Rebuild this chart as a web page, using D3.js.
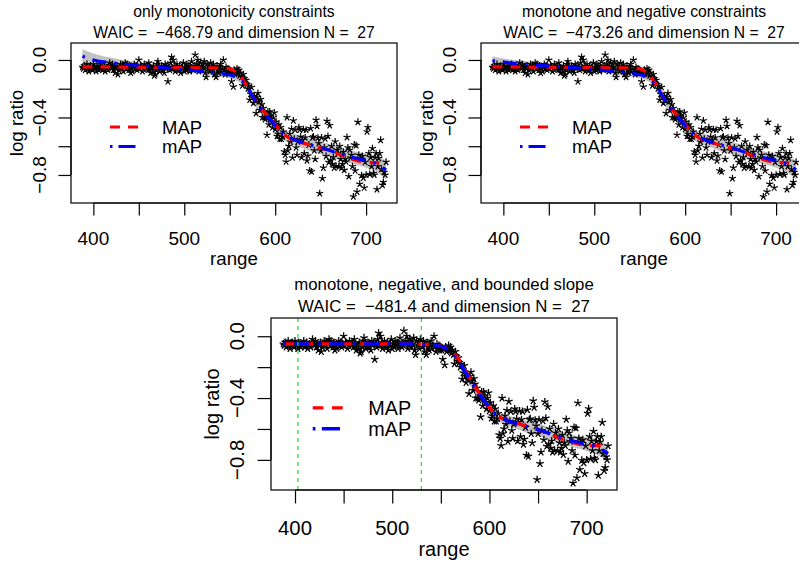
<!DOCTYPE html>
<html><head><meta charset="utf-8">
<script src="https://cdn.jsdelivr.net/npm/d3@7"></script>
<style>
body{margin:0;background:#fff}
svg{display:block}
text{font-family:"Liberation Sans",Arial,Helvetica,sans-serif;fill:#000;white-space:pre}
</style>
</head><body><svg id="c" width="799" height="563"></svg>
<script>
// ---------------- data ----------------
const wavelength = [
388,389,390,391,392,393,394,395,396,397,398,399,400,401,402,403,404,405,406,407,
408,409,410,411,412,413,414,415,416,417,418,419,420,421,422,423,424,425,426,427,
428,429,430,431,432,433,434,435,436,437,438,439,440,441,442,443,444,445,446,447,
448,449,450,451,452,453,454,455,456,457,458,459,460,461,462,463,464,465,466,467,
468,469,470,471,472,473,474,475,476,477,478,479,480,481,482,483,484,485,486,487,
488,489,490,491,492,493,494,495,496,497,498,499,500,501,502,503,504,505,506,507,
508,509,510,511,512,513,514,515,516,517,518,519,520,521,522,523,524,525,526,527,
528,529,530,531,532,533,534,535,536,537,538,539,540,541,542,543,544,545,546,547,
548,549,550,551,552,553,554,555,556,557,558,559,560,561,562,563,564,565,566,567,
568,569,570,571,572,573,574,575,576,577,578,579,580,581,582,583,584,585,586,587,
588,589,590,591,592,593,594,595,596,597,598,599,600,601,602,603,604,605,606,607,
608,609,610,611,612,613,614,615,616,617,618,619,620,621,622,623,624,625,626,627,
628,629,630,631,632,633,634,635,636,637,638,639,640,641,642,643,644,645,646,647,
648,649,650,651,652,653,654,655,656,657,658,659,660,661,662,663,664,665,666,667,
668,669,670,671,672,673,674,675,676,677,678,679,680,681,682,683,684,685,686,687,
688,689,690,691,692,693,694,695,696,697,698,699,700,701,702,703,704,705,706,707,
708,709,710,711,712,713,714,715,716,717,718,719,720,721,722];
const logRatio = [
-0.05,-0.06,-0.04,-0.07,-0.05,-0.03,-0.06,-0.08,-0.05,-0.04,
-0.06,-0.07,-0.03,-0.05,-0.06,-0.08,-0.04,-0.05,-0.07,-0.06,
-0.05,-0.03,-0.07,-0.06,-0.04,-0.08,-0.06,-0.05,-0.07,-0.04,
-0.02,-0.05,-0.06,-0.03,-0.07,-0.05,-0.09,-0.06,-0.04,-0.1,
-0.07,-0.05,-0.03,-0.06,-0.04,-0.08,-0.05,-0.02,-0.06,-0.03,
-0.05,-0.07,-0.04,-0.09,-0.06,-0.08,-0.05,-0.03,-0.06,-0.04,
-0.07,-0.05,0.0,-0.06,-0.04,-0.05,-0.08,-0.06,-0.03,-0.05,
-0.06,-0.04,-0.07,-0.02,-0.05,-0.09,-0.06,-0.08,-0.04,-0.11,
-0.1,-0.07,-0.03,-0.01,-0.05,-0.08,-0.06,-0.04,-0.07,-0.05,
-0.09,-0.03,-0.06,-0.04,-0.15,-0.05,-0.07,-0.02,0.02,-0.06,
0.0,-0.04,-0.08,-0.05,-0.03,-0.06,-0.07,-0.04,-0.09,-0.05,
-0.06,-0.02,-0.08,-0.05,-0.07,-0.03,-0.06,-0.04,-0.08,-0.05,
-0.01,-0.06,-0.07,-0.04,0.035,-0.05,-0.03,0.0,-0.08,-0.06,
-0.02,-0.04,-0.07,-0.05,-0.01,-0.09,-0.12,-0.03,-0.06,-0.04,
-0.08,-0.02,-0.05,-0.07,-0.03,-0.1,-0.06,-0.12,-0.04,-0.07,
-0.09,-0.05,-0.03,-0.08,-0.06,0.0,-0.07,-0.1,-0.05,-0.08,
-0.06,-0.09,
-0.07,-0.09,-0.15,-0.08,-0.186,-0.07,-0.1,-0.08,-0.06,-0.09,
-0.07,-0.11,-0.09,-0.12,-0.179,-0.1,-0.13,-0.16,-0.14,-0.17,
-0.2,-0.18,-0.278,-0.237,-0.19,-0.26,-0.3,-0.25,-0.28,-0.371,
-0.26,-0.232,-0.29,-0.35,-0.274,-0.31,-0.4,-0.336,-0.4,-0.413,
-0.4,-0.522,-0.36,-0.45,-0.36,-0.39,-0.43,-0.47,-0.4,-0.367,
-0.483,-0.43,-0.53,-0.515,-0.45,-0.55,-0.47,-0.55,-0.534,-0.5,
-0.638,-0.661,-0.708,-0.4,-0.63,-0.599,-0.515,-0.57,-0.48,-0.68,
-0.422,-0.55,-0.487,-0.61,-0.661,-0.568,-0.47,-0.487,-0.534,-0.678,
-0.557,-0.483,-0.65,-0.54,-0.487,-0.7,-0.666,-0.59,-0.77,-0.476,
-0.777,-0.54,-0.534,-0.63,-0.69,-0.418,-0.46,-0.543,-0.58,-0.928,
-0.63,-0.54,-0.824,-0.75,-0.61,-0.548,-0.67,-0.425,-0.53,-0.712,
-0.455,-0.7,-0.6,-0.724,-0.678,-0.75,-0.568,-0.738,-0.626,-0.65,
-0.742,-0.6,-0.69,-0.75,-0.724,-0.64,-0.766,-0.69,-0.708,-0.538,
-0.61,-0.81,-0.626,-0.68,-0.661,-0.74,-0.951,-0.59,-0.77,-0.594,
-0.917,-0.432,-0.661,-0.863,-0.684,-0.803,-0.67,-0.82,-0.889,-0.71,
-0.8,-0.499,-0.469,-0.65,-0.794,-0.678,-0.74,-0.615,-0.789,-0.8,
-0.68,-0.65,-0.9,-0.74,-0.684,-0.65,-0.557,-0.76,-0.87,-0.85,
-0.78,-0.8,-0.71];

const curveX = [388,400,420,440,460,480,500,520,540,550,556,562,568,574,580,586,592,598,604,610,616,624,632,640,650,660,670,680,690,700,710,716,722];
const mapTop = [-0.048,-0.048,-0.049,-0.05,-0.051,-0.052,-0.053,-0.055,-0.056,-0.062,-0.08,-0.115,-0.17,-0.24,-0.3,-0.35,-0.39,-0.43,-0.48,-0.52,-0.545,-0.565,-0.58,-0.595,-0.612,-0.63,-0.655,-0.68,-0.7,-0.71,-0.714,-0.715,null];
const mapBottom = [-0.05,-0.05,-0.05,-0.05,-0.05,-0.05,-0.05,-0.05,-0.057,-0.065,-0.078,-0.102,-0.145,-0.205,-0.275,-0.335,-0.39,-0.445,-0.49,-0.52,-0.54,-0.555,-0.57,-0.585,-0.605,-0.628,-0.655,-0.678,-0.695,-0.705,-0.708,-0.708,null];
const mAP1 = [0.025,0.0,-0.02,-0.033,-0.043,-0.055,-0.068,-0.08,-0.095,-0.105,-0.115,-0.135,-0.175,-0.24,-0.3,-0.35,-0.4,-0.44,-0.485,-0.52,-0.54,-0.56,-0.578,-0.593,-0.61,-0.63,-0.65,-0.668,-0.685,-0.7,-0.72,-0.74,-0.765];
const lo1 = [-0.07,-0.05,-0.055,-0.058,-0.063,-0.075,-0.088,-0.1,-0.117,-0.127,-0.14,-0.163,-0.21,-0.28,-0.34,-0.39,-0.44,-0.48,-0.525,-0.56,-0.58,-0.6,-0.618,-0.638,-0.655,-0.675,-0.695,-0.713,-0.73,-0.75,-0.775,-0.8,-0.83];
const hi1 = [0.075,0.045,0.015,-0.008,-0.023,-0.035,-0.048,-0.06,-0.073,-0.083,-0.09,-0.107,-0.14,-0.2,-0.26,-0.31,-0.36,-0.4,-0.445,-0.48,-0.5,-0.52,-0.538,-0.548,-0.565,-0.585,-0.605,-0.623,-0.64,-0.65,-0.665,-0.68,-0.7];
const mAP2 = [-0.005,-0.015,-0.028,-0.038,-0.046,-0.055,-0.066,-0.078,-0.092,-0.103,-0.113,-0.135,-0.175,-0.24,-0.3,-0.35,-0.4,-0.44,-0.485,-0.52,-0.54,-0.56,-0.578,-0.593,-0.61,-0.63,-0.65,-0.668,-0.685,-0.7,-0.72,-0.74,-0.765];
const lo2 = [-0.035,-0.04,-0.05,-0.058,-0.064,-0.075,-0.086,-0.098,-0.114,-0.125,-0.138,-0.163,-0.21,-0.28,-0.34,-0.39,-0.44,-0.48,-0.525,-0.56,-0.58,-0.6,-0.618,-0.638,-0.655,-0.675,-0.695,-0.713,-0.73,-0.75,-0.775,-0.8,-0.83];
const hi2 = [0.025,0.01,-0.006,-0.018,-0.028,-0.035,-0.046,-0.058,-0.07,-0.081,-0.088,-0.107,-0.14,-0.2,-0.26,-0.31,-0.36,-0.4,-0.445,-0.48,-0.5,-0.52,-0.538,-0.548,-0.565,-0.585,-0.605,-0.623,-0.64,-0.65,-0.665,-0.68,-0.7];
const mAP3 = [-0.05,-0.05,-0.05,-0.05,-0.05,-0.05,-0.05,-0.051,-0.058,-0.066,-0.08,-0.11,-0.158,-0.22,-0.28,-0.34,-0.395,-0.445,-0.49,-0.52,-0.54,-0.557,-0.573,-0.588,-0.605,-0.625,-0.648,-0.668,-0.685,-0.698,-0.715,-0.735,-0.76];
const lo3 = [-0.085,-0.07,-0.063,-0.063,-0.063,-0.063,-0.063,-0.064,-0.073,-0.083,-0.1,-0.132,-0.188,-0.255,-0.315,-0.375,-0.43,-0.48,-0.525,-0.555,-0.575,-0.592,-0.608,-0.628,-0.645,-0.665,-0.688,-0.708,-0.725,-0.743,-0.765,-0.785,-0.815];
const hi3 = [-0.015,-0.03,-0.037,-0.037,-0.037,-0.037,-0.037,-0.038,-0.043,-0.049,-0.06,-0.088,-0.128,-0.185,-0.245,-0.305,-0.36,-0.41,-0.455,-0.485,-0.505,-0.522,-0.538,-0.548,-0.565,-0.585,-0.608,-0.628,-0.645,-0.653,-0.665,-0.685,-0.705];
const boundLines = [403, 530];

const xTicks = [400,450,500,550,600,650,700];
const xTickLabels = ["400","","500","","600","","700"];
const yTicks = [0,-0.2,-0.4,-0.6,-0.8];
const yTickLabels = ["0.0","","\u22120.4","","\u22120.8"];
const titleTexts = ["only monotonicity constraints","monotone and negative constraints","monotone, negative, and bounded slope"];
const waicTexts = ["WAIC =  \u2212468.79 and dimension N =  27","WAIC =  \u2212473.26 and dimension N =  27","WAIC =  \u2212481.4 and dimension N =  27"];
const legendLabels = ["MAP","mAP"];
const xLabel = "range", yLabel = "log ratio";

// ---------------- layout ----------------
const panels = [
  {left:71, right:397, top:43, bottom:203, xDom:[375.4,734], k:1, ti:0, map:mapTop, mAP:mAP1, lo:lo1, hi:hi1, bounds:false},
  {left:481, right:807, top:43, bottom:203, xDom:[375.4,734], k:1, ti:1, map:mapTop, mAP:mAP2, lo:lo2, hi:hi2, bounds:false},
  {left:271, right:617, top:318, bottom:490, xDom:[375.3,731.2], k:1.07, ti:2, map:mapBottom, mAP:mAP3, lo:lo3, hi:hi3, bounds:true}
];
const yDom = [-0.995, 0.118];

const svg = d3.select("#c");

const starType = {
  draw(ctx, size){
    const r = Math.sqrt(size);
    for(let i=0;i<5;i++){
      const a = -Math.PI/2 + i*2*Math.PI/5;
      ctx.moveTo(0,0);
      ctx.lineTo(r*Math.cos(a), r*Math.sin(a));
    }
  }
};

panels.forEach(p=>{
  const k = p.k;
  const g = svg.append("g");
  const x = d3.scaleLinear().domain(p.xDom).range([p.left,p.right]);
  const y = d3.scaleLinear().domain(yDom).range([p.bottom,p.top]);

  const clipId = "clip"+p.ti;
  svg.append("clipPath").attr("id",clipId).append("rect")
    .attr("x",p.left).attr("y",p.top).attr("width",p.right-p.left).attr("height",p.bottom-p.top);
  const plot = g.append("g").attr("clip-path",`url(#${clipId})`);

  // band
  const idx = d3.range(curveX.length);
  plot.append("path")
    .attr("d", d3.area().x(i=>x(curveX[i])).y0(i=>y(p.lo[i])).y1(i=>y(p.hi[i])).curve(d3.curveMonotoneX)(idx))
    .attr("fill","#c2c2c2");

  // stars
  const sym = d3.symbol().type(starType).size(3.7*3.7*k*k);
  plot.append("g").selectAll("path").data(wavelength.map((w,i)=>[w,logRatio[i]])).join("path")
    .attr("transform",d=>`translate(${x(d[0])},${y(d[1])})`)
    .attr("d",sym).attr("stroke","#000").attr("stroke-width",1.2*k).attr("fill","none");

  // lines
  const ln = d3.line().defined(i=>p.map[i]!==null).x(i=>x(curveX[i])).y(i=>y(p.map[i])).curve(d3.curveMonotoneX);
  const lnB = d3.line().x(i=>x(curveX[i])).y(i=>y(p.mAP[i])).curve(d3.curveMonotoneX);
  plot.append("path").attr("d",ln(idx)).attr("fill","none").attr("stroke","#ff0000")
    .attr("stroke-width",3.2*k).attr("stroke-dasharray",`${10*k},${8*k}`);
  plot.append("path").attr("d",lnB(idx)).attr("fill","none").attr("stroke","#0000ff")
    .attr("stroke-width",3.2*k).attr("stroke-dasharray",`${2.5*k},${8*k},${14*k},${8*k}`);

  // bounds lines
  if(p.bounds){
    g.selectAll("line.b").data(boundLines).join("line").attr("class","b")
      .attr("x1",d=>x(d)).attr("x2",d=>x(d)).attr("y1",p.top).attr("y2",p.bottom)
      .attr("stroke","#22dd22").attr("stroke-width",1.2).attr("stroke-dasharray","4,4");
  }

  // legend
  const lg = g.append("g");
  const lx1 = p.left+39*k, lx2 = p.left+70*k, tx = p.left+91*k;
  const ly = [p.top+84*k, p.top+103.5*k];
  lg.append("line").attr("x1",lx1).attr("x2",lx2).attr("y1",ly[0]).attr("y2",ly[0])
    .attr("stroke","#ff0000").attr("stroke-width",3.2*k).attr("stroke-dasharray",`${10*k},${8*k}`);
  lg.append("line").attr("x1",lx1).attr("x2",lx2).attr("y1",ly[1]).attr("y2",ly[1])
    .attr("stroke","#0000ff").attr("stroke-width",3.2*k).attr("stroke-dasharray",`${2.5*k},${6*k},${17*k},${6*k}`);
  legendLabels.forEach((t,i)=>{
    lg.append("text").attr("x",tx).attr("y",ly[i]+6.8*k).attr("font-size",18.5*k).text(t);
  });

  // box
  g.append("rect").attr("x",p.left).attr("y",p.top).attr("width",p.right-p.left).attr("height",p.bottom-p.top)
    .attr("fill","none").attr("stroke","#000").attr("stroke-width",1.2);

  // axes
  const tl = 12.5*k;
  const ax = g.append("g").attr("transform",`translate(0,${p.bottom})`)
    .call(d3.axisBottom(x).tickValues(xTicks).tickSize(tl).tickSizeOuter(0).tickFormat(""));
  ax.select(".domain").attr("d",`M${x(xTicks[0])},0H${x(xTicks[xTicks.length-1])}`).attr("stroke-width",1.2);
  ax.selectAll(".tick line").attr("stroke-width",1.2);
  const ay = g.append("g").attr("transform",`translate(${p.left},0)`)
    .call(d3.axisLeft(y).tickValues(yTicks).tickSize(tl).tickSizeOuter(0).tickFormat(""));
  ay.select(".domain").attr("d",`M0,${y(yTicks[0])}V${y(yTicks[yTicks.length-1])}`).attr("stroke-width",1.2);
  ay.selectAll(".tick line").attr("stroke-width",1.2);

  // tick labels
  xTicks.forEach((v,i)=>{
    if(!xTickLabels[i]) return;
    g.append("text").attr("x",x(v)).attr("y",p.bottom+42*k).attr("text-anchor","middle")
      .attr("font-size",19*k).text(xTickLabels[i]);
  });
  yTicks.forEach((v,i)=>{
    if(!yTickLabels[i]) return;
    const tx0 = p.left-25*k, ty0 = y(v);
    g.append("text").attr("transform",`translate(${tx0},${ty0}) rotate(-90)`).attr("text-anchor","middle")
      .attr("font-size",19*k).text(yTickLabels[i]);
  });
  // axis titles
  g.append("text").attr("x",(p.left+p.right)/2).attr("y",p.bottom+62*k).attr("text-anchor","middle")
    .attr("font-size",18.7*k).text(xLabel);
  g.append("text").attr("transform",`translate(${p.left-48.5*k},${(p.top+p.bottom)/2}) rotate(-90)`)
    .attr("text-anchor","middle").attr("font-size",18.7*k).text(yLabel);

  // titles
  const cx = p.ti===1 ? 644 : (p.left+p.right)/2;
  g.append("text").attr("x",cx).attr("y",p.top-26*k).attr("text-anchor","middle")
    .attr("font-size",15.7*k).text(titleTexts[p.ti]);
  g.append("text").attr("x",cx).attr("y",p.top-5.5*k).attr("text-anchor","middle")
    .attr("font-size",15.7*k).text(waicTexts[p.ti]);
});
</script>
</body></html>
